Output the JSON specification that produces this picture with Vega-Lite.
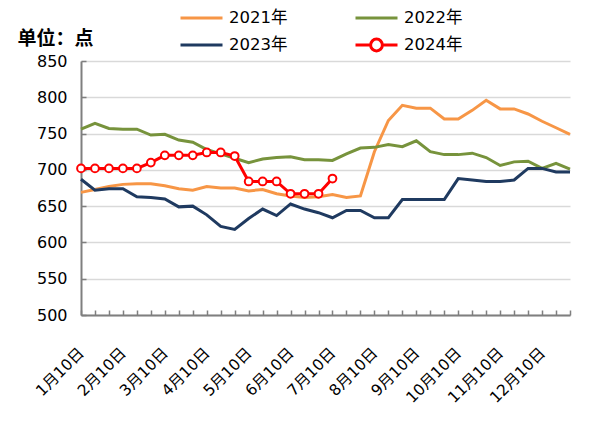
{
  "$schema": "https://vega.github.io/schema/vega-lite/v6.json",
  "width": 489,
  "height": 254,
  "autosize": {"type": "none"},
  "padding": {"left": 81, "top": 61, "right": 33, "bottom": 108},
  "background": "white",
  "config": {"view": {"stroke": null}, "font": "DejaVu Sans"},
  "data": {
    "values": [
      {"d": "1月10日", "2021年": 669, "2022年": 756, "2023年": 687, "2024年": 702},
      {"d": "1月20日", "2021年": 673, "2022年": 764, "2023年": 672, "2024年": 702},
      {"d": "1月30日", "2021年": 677, "2022年": 757, "2023年": 674, "2024年": 702},
      {"d": "2月10日", "2021年": 680, "2022年": 756, "2023年": 674, "2024年": 702},
      {"d": "2月20日", "2021年": 681, "2022年": 756, "2023年": 663, "2024年": 702},
      {"d": "2月28日", "2021年": 681, "2022年": 748, "2023年": 662, "2024年": 710},
      {"d": "3月10日", "2021年": 678, "2022年": 749, "2023年": 660, "2024年": 720},
      {"d": "3月20日", "2021年": 674, "2022年": 741, "2023年": 649, "2024年": 720},
      {"d": "3月30日", "2021年": 672, "2022年": 738, "2023年": 650, "2024年": 720},
      {"d": "4月10日", "2021年": 677, "2022年": 728, "2023年": 638, "2024年": 724},
      {"d": "4月20日", "2021年": 675, "2022年": 722, "2023年": 622, "2024年": 724},
      {"d": "4月30日", "2021年": 675, "2022年": 716, "2023年": 618, "2024年": 719},
      {"d": "5月10日", "2021年": 671, "2022年": 710, "2023年": 633, "2024年": 684},
      {"d": "5月20日", "2021年": 673, "2022年": 715, "2023年": 646, "2024年": 684},
      {"d": "5月30日", "2021年": 667, "2022年": 717, "2023年": 637, "2024年": 684},
      {"d": "6月10日", "2021年": 664, "2022年": 718, "2023年": 653, "2024年": 667},
      {"d": "6月20日", "2021年": 662, "2022年": 714, "2023年": 646, "2024年": 667},
      {"d": "6月30日", "2021年": 663, "2022年": 714, "2023年": 641, "2024年": 667},
      {"d": "7月10日", "2021年": 666, "2022年": 713, "2023年": 634, "2024年": 688},
      {"d": "7月20日", "2021年": 662, "2022年": 722, "2023年": 644},
      {"d": "7月30日", "2021年": 664, "2022年": 730, "2023年": 644},
      {"d": "8月10日", "2021年": 725, "2022年": 731, "2023年": 634},
      {"d": "8月20日", "2021年": 768, "2022年": 735, "2023年": 634},
      {"d": "8月30日", "2021年": 789, "2022年": 732, "2023年": 659},
      {"d": "9月10日", "2021年": 785, "2022年": 740, "2023年": 659},
      {"d": "9月20日", "2021年": 785, "2022年": 725, "2023年": 659},
      {"d": "9月30日", "2021年": 770, "2022年": 721, "2023年": 659},
      {"d": "10月10日", "2021年": 770, "2022年": 721, "2023年": 688},
      {"d": "10月20日", "2021年": 782, "2022年": 723, "2023年": 686},
      {"d": "10月30日", "2021年": 796, "2022年": 717, "2023年": 684},
      {"d": "11月10日", "2021年": 784, "2022年": 706, "2023年": 684},
      {"d": "11月20日", "2021年": 784, "2022年": 711, "2023年": 686},
      {"d": "11月30日", "2021年": 777, "2022年": 712, "2023年": 702},
      {"d": "12月10日", "2021年": 767, "2022年": 702, "2023年": 702},
      {"d": "12月20日", "2021年": 758, "2022年": 709, "2023年": 697},
      {"d": "12月30日", "2021年": 749, "2022年": 701, "2023年": 697}
    ]
  },
  "transform": [
    {"fold": ["2021年", "2022年", "2023年", "2024年"], "as": ["series", "value"]},
    {"filter": "isValid(datum.value)"}
  ],
  "encoding": {
    "x": {
      "field": "d",
      "type": "ordinal",
      "sort": null,
      "scale": {"type": "point", "padding": 0},
      "axis": {
        "title": null,
        "labelAngle": -45,
        "labelAlign": "right",
        "labelBaseline": "middle",
        "labelPadding": 40,
        "labelExpr": "indexof(datum.label, '月10日') >= 0 ? datum.label : ''",
        "labelOverlap": false,
        "labelBound": false,
        "labelFlush": false,
        "labelFont": "DejaVu Sans, Noto Sans CJK SC",
        "labelFontSize": 15.5,
        "labelColor": "#000000",
        "tickSize": -5,
        "tickColor": "#7F7F7F",
        "tickWidth": 1.5,
        "domainColor": "#7F7F7F",
        "domainWidth": 2,
        "grid": false
      }
    },
    "y": {
      "field": "value",
      "type": "quantitative",
      "scale": {"domain": [500, 850], "nice": false, "zero": false},
      "axis": {
        "values": [500, 550, 600, 650, 700, 750, 800, 850],
        "title": "单位：点",
        "titleAngle": 0,
        "titleX": -64,
        "titleY": -23,
        "titleAlign": "left",
        "titleBaseline": "middle",
        "titleFont": "Noto Sans CJK SC",
        "titleFontSize": 19,
        "titleFontWeight": "bold",
        "titleColor": "#000000",
        "labelFont": "DejaVu Sans",
        "labelFontSize": 16,
        "labelColor": "#000000",
        "labelPadding": 19,
        "tickSize": -5,
        "tickColor": "#7F7F7F",
        "tickWidth": 1.5,
        "domainColor": "#7F7F7F",
        "domainWidth": 2,
        "gridColor": "#D9D9D9",
        "gridWidth": 1.5
      }
    }
  },
  "layer": [
    {
      "mark": {"type": "line", "strokeWidth": 3},
      "encoding": {
        "color": {
          "field": "series",
          "type": "nominal",
          "scale": {
            "domain": ["2021年", "2022年", "2023年", "2024年"],
            "range": ["#F79646", "#77933C", "#1F3A60", "#FF0000"]
          },
          "legend": {
            "title": null,
            "orient": "none",
            "legendX": 98,
            "legendY": -53,
            "columns": 2,
            "direction": "horizontal",
            "columnPadding": 66,
            "rowPadding": 7,
            "clipHeight": 20,
            "symbolSize": 1764,
            "symbolStrokeWidth": 3,
            "labelFont": "DejaVu Sans, Noto Sans CJK SC",
            "labelFontSize": 16.5,
            "labelColor": "#000000",
            "labelOffset": 5,
            "padding": 0,
            "encode": {
              "symbols": {
                "update": {
                  "shape": {"signal": "datum.value === '2024年' ? 'M-1,0L-0.28,0M0.28,0L1,0M0.28,0A0.28,0.28,0,1,1,-0.28,0A0.28,0.28,0,1,1,0.28,0' : 'M-1,0L1,0'"},
                  "fill": {"value": "white"}
                }
              }
            }
          }
        }
      }
    },
    {
      "transform": [{"filter": "datum.series === '2024年'"}],
      "mark": {"type": "point", "shape": "circle", "filled": true, "fill": "white", "stroke": "#FF0000", "strokeWidth": 2, "size": 60, "opacity": 1}
    }
  ]
}
